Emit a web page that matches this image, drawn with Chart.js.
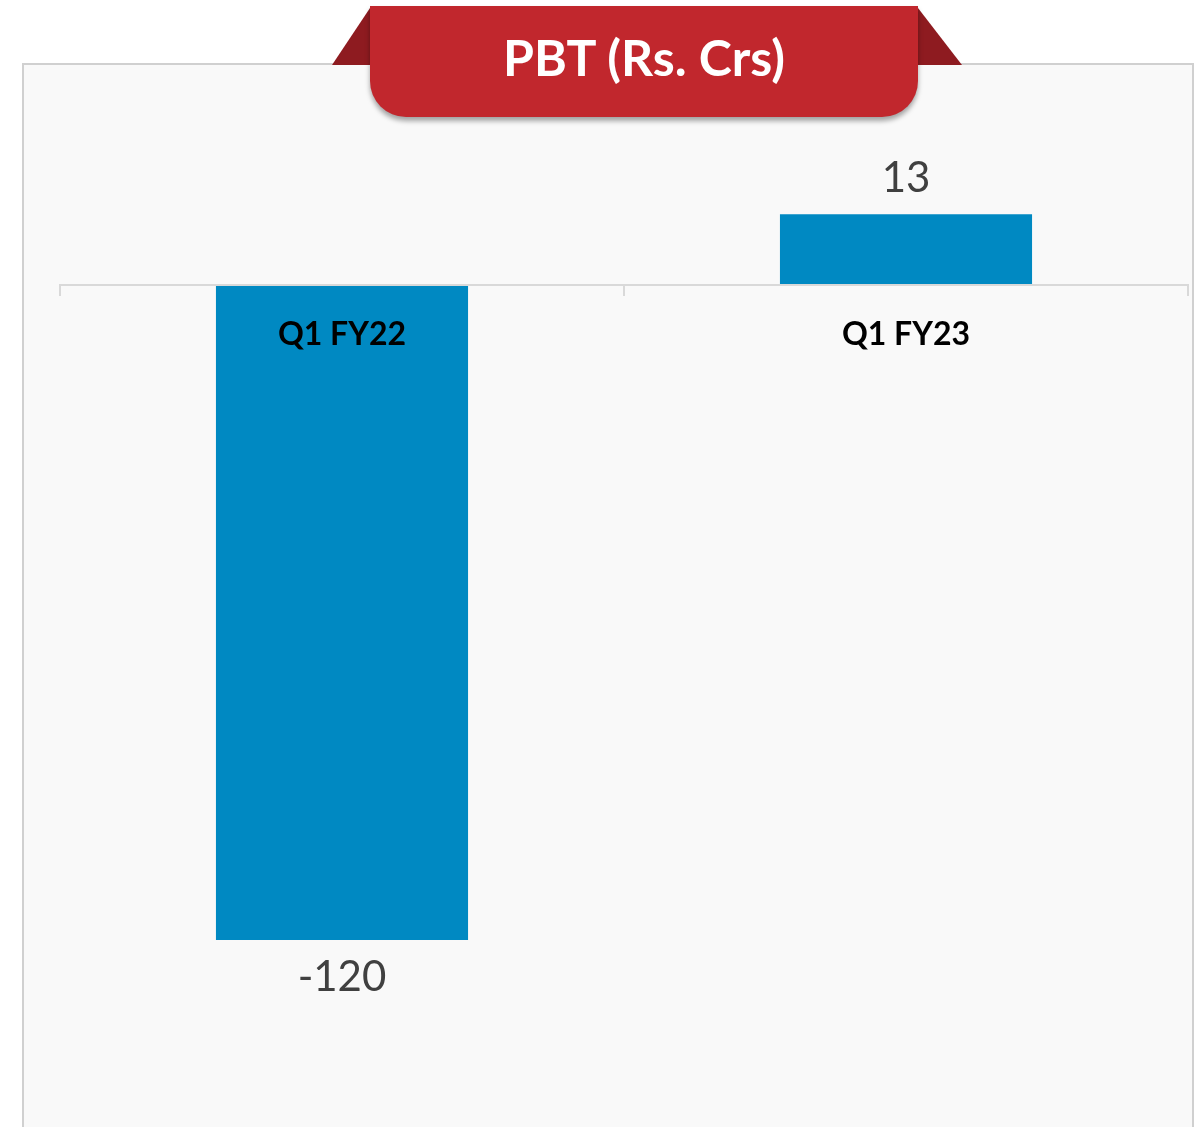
<!DOCTYPE html>
<html>
<head>
<meta charset="utf-8">
<script src="https://cdn.jsdelivr.net/npm/chart.js@4"></script>
<style>
    html, body { margin: 0; padding: 0; background: #ffffff; }
    body { width: 1198px; height: 1127px; position: relative; overflow: hidden; font-family: Lato, sans-serif; }
    .panel { position: absolute; left: 22px; top: 63px; width: 1168px; height: 1080px; background: #f9f9f9; border: 2px solid #d0d0d0; }
    .wing { position: absolute; top: 8px; width: 0; height: 0; border-bottom: 57px solid #8e1b20; }
    .wing.left { left: 332px; border-left: 38px solid transparent; }
    .wing.right { left: 918px; border-right: 44px solid transparent; }
    .banner { position: absolute; left: 370px; top: 6px; width: 548px; height: 111px; background: #c1272d;
              border-radius: 0 0 36px 36px; box-shadow: 0 4px 5px rgba(0,0,0,0.35);
              color: #ffffff; font: bold 50px Lato, sans-serif; text-align: center; line-height: 102px; }
    .chart-box { position: absolute; left: 0; top: 0; width: 1198px; height: 1127px; }
</style>
</head>
<body>
<div class="panel"></div>
<div class="wing left"></div>
<div class="wing right"></div>
<div class="banner">PBT (Rs. Crs)</div>
<div class="chart-box"><canvas id="pbt-chart"></canvas></div>
<script>
const categories = ['Q1 FY22', 'Q1 FY23'];
const pbtValues = [-120, 13];
const yMin = -140;
const yMax = 20;

document.addEventListener('DOMContentLoaded', function() {
    const ctx = document.getElementById('pbt-chart').getContext('2d');

    // draw the value above / below each bar
    const valueLabels = {
        id: 'valueLabels',
        afterDatasetsDraw(chart) {
            const c = chart.ctx;
            const meta = chart.getDatasetMeta(0);
            c.save();
            c.font = '42px Lato, sans-serif';
            c.fillStyle = '#404040';
            c.textAlign = 'center';
            c.textBaseline = 'middle';
            meta.data.forEach(function(bar, i) {
                const v = chart.data.datasets[0].data[i];
                const y = v >= 0 ? bar.y - 36 : bar.y + 38;
                c.fillText(String(v), bar.x, y);
            });
            c.restore();
        }
    };

    new Chart(ctx, {
        type: 'bar',
        data: {
            labels: categories,
            datasets: [{
                label: 'PBT (Rs. Crs)',
                data: pbtValues,
                backgroundColor: '#0089c2',
                borderWidth: 0,
                categoryPercentage: 1,
                barPercentage: 0.447
            }]
        },
        options: {
            responsive: true,
            maintainAspectRatio: false,
            animation: false,
            layout: { padding: { left: 60, right: 10, top: 176, bottom: 78 } },
            plugins: {
                legend: { display: false },
                title: { display: false },
                tooltip: { enabled: false }
            },
            scales: {
                x: {
                    position: { y: 0 },
                    grid: { drawOnChartArea: false, drawTicks: true, tickLength: 10, color: '#d9d9d9', lineWidth: 2, z: 1 },
                    border: { color: '#d9d9d9', width: 2, z: 1 },
                    ticks: { color: '#000000', padding: 20, z: 1, font: { family: 'Lato', size: 32, weight: 'bold' } }
                },
                y: {
                    display: false,
                    min: yMin,
                    max: yMax
                }
            }
        },
        plugins: [valueLabels]
    });
});
</script>
</body>
</html>
